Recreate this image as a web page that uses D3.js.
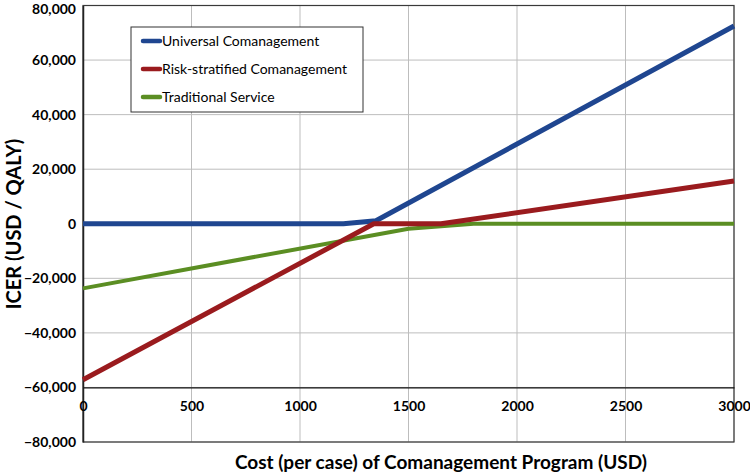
<!DOCTYPE html>
<html><head><meta charset="utf-8">
<script src="https://cdn.jsdelivr.net/npm/d3@7"></script>
<style>body{margin:0;background:#fff}svg{display:block}</style>
</head><body>
<script>
const xTicks = [0, 500, 1000, 1500, 2000, 2500, 3000];
const yTicks = [-80000, -60000, -40000, -20000, 0, 20000, 40000, 60000, 80000];
const seriesNames = ["Universal Comanagement", "Risk-stratified Comanagement", "Traditional Service"];
const seriesColors = ["#1F4690", "#9A1B1E", "#5B8E23"];
const universalX = [0, 1200, 1350, 3000];
const universalY = [0, 0, 1100, 72500];
const riskX = [0, 1340, 1650, 3000];
const riskY = [-57200, 0, 0, 15700];
const tradX = [0, 1500, 1800, 3000];
const tradY = [-23700, -1800, 0, 0];

const W = 750, H = 473;
const m = {l: 83, r: 734, t: 5.5, b: 442};
const svg = d3.select("body").append("svg").attr("width", W).attr("height", H);
const x = d3.scaleLinear().domain([0, 3000]).range([m.l, m.r]);
const y = d3.scaleLinear().domain([-80000, 80000]).range([m.b, m.t]);
const font = "Lato, 'Open Sans', sans-serif";

// grid
svg.append("g").selectAll("line").data(xTicks).join("line")
  .attr("x1", d => x(d)).attr("x2", d => x(d)).attr("y1", m.t).attr("y2", m.b)
  .attr("stroke", "#bdbdbd").attr("stroke-width", 1);
svg.append("g").selectAll("line").data(yTicks).join("line")
  .attr("x1", m.l).attr("x2", m.r).attr("y1", d => y(d)).attr("y2", d => y(d))
  .attr("stroke", "#bdbdbd").attr("stroke-width", 1);

// border
svg.append("rect").attr("x", m.l).attr("y", m.t).attr("width", m.r - m.l).attr("height", m.b - m.t)
  .attr("fill", "none").attr("stroke", "#3a3a3a").attr("stroke-width", 1.2);

// y axis
const yAxis = d3.axisLeft(y).tickValues(yTicks).tickSize(0).tickPadding(7).tickFormat(d3.format(","));
const gy = svg.append("g").attr("transform", `translate(${m.l},0)`).call(yAxis);
gy.select(".domain").attr("stroke", "#222").attr("stroke-width", 1.5);
gy.selectAll("text").attr("font-family", font).attr("font-weight", "bold").attr("font-size", 14).attr("fill", "#000")
  .attr("dy", d => d === 80000 ? "0.55em" : "0.32em");

// x axis at -60000
const xAxis = d3.axisBottom(x).tickValues(xTicks).tickSize(0).tickPadding(14).tickFormat(d3.format("d"));
const gx = svg.append("g").attr("transform", `translate(0,${y(-60000)})`).call(xAxis);
gx.select(".domain").attr("stroke", "#111").attr("stroke-width", 1.3);
gx.selectAll("text").attr("font-family", font).attr("font-weight", "bold").attr("font-size", 14).attr("fill", "#000");

// lines
const data = [
  universalX.map((v, i) => [v, universalY[i]]),
  riskX.map((v, i) => [v, riskY[i]]),
  tradX.map((v, i) => [v, tradY[i]])
];
const line = d3.line().x(d => x(d[0])).y(d => y(d[1]));
const order = [2, 0, 1];
order.forEach(i => {
  svg.append("path").attr("d", line(data[i])).attr("fill", "none")
    .attr("stroke", seriesColors[i]).attr("stroke-width", i === 2 ? 4 : 5)
    .attr("stroke-linejoin", "round");
});

// legend
const lg = svg.append("g");
lg.append("rect").attr("x", 131).attr("y", 27).attr("width", 232).attr("height", 85)
  .attr("fill", "#fff").attr("stroke", "#333").attr("stroke-width", 1);
seriesNames.forEach((n, i) => {
  const yy = 41 + i * 28;
  lg.append("line").attr("x1", 143).attr("x2", 160).attr("y1", yy).attr("y2", yy)
    .attr("stroke", seriesColors[i]).attr("stroke-width", 4.5).attr("stroke-linecap", "round");
  lg.append("text").attr("x", 162).attr("y", yy).attr("dy", "0.35em")
    .attr("font-family", font).attr("font-size", 14).attr("fill", "#000").text(n);
});

// axis titles
svg.append("text").attr("x", 441).attr("y", 462).attr("dy", "0.35em").attr("text-anchor", "middle")
  .attr("font-family", font).attr("font-weight", "bold").attr("font-size", 19).text("Cost (per case) of Comanagement Program (USD)");
svg.append("text").attr("transform", "translate(14,224) rotate(-90)").attr("dy", "0.35em").attr("text-anchor", "middle")
  .attr("font-family", font).attr("font-weight", "bold").attr("font-size", 20).text("ICER (USD / QALY)");
</script>
</body></html>
